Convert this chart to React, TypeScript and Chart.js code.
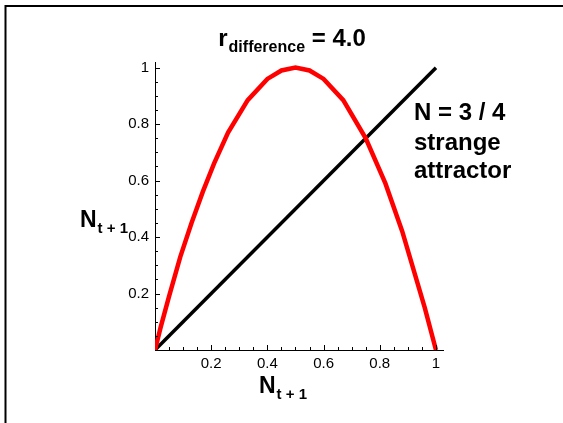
import { useEffect, useRef } from "react";
import { Chart, registerables } from "chart.js";

Chart.register(...registerables);

// Logistic map curve (red)
const mapX = [0, 0.02, 0.05, 0.09, 0.13, 0.17, 0.21, 0.26, 0.33, 0.4, 0.45, 0.5, 0.55, 0.6, 0.67, 0.75, 0.82, 0.88, 0.96, 1];
const mapY = [0, 0.08, 0.19, 0.33, 0.45, 0.56, 0.66, 0.77, 0.885, 0.96, 0.99, 1, 0.99, 0.96, 0.885, 0.75, 0.59, 0.42, 0.15, 0];

// Diagonal N(t+1) = N(t) (black)
const diagX = [0, 1];
const diagY = [0, 1];

const majorTicks = [0.2, 0.4, 0.6, 0.8, 1];
const majorLabels = ["0.2", "0.4", "0.6", "0.8", "1"];
const minorTicks = [0.05, 0.1, 0.15, 0.25, 0.3, 0.35, 0.45, 0.5, 0.55, 0.65, 0.7, 0.75, 0.85, 0.9, 0.95];

const titleMain = "r";
const titleSub = "difference";
const titleRest = " = 4.0";
const axisMain = "N";
const axisSub = "t + 1";
const noteLines = ["N = 3 / 4", "strange", "attractor"];

const FONT = "'Liberation Sans', Arial, sans-serif";

const overlay = {
  id: "overlay",
  afterDraw(chart: any) {
    const ctx = chart.ctx as CanvasRenderingContext2D;
    const xs = chart.scales.x;
    const ys = chart.scales.y;
    const x0 = xs.getPixelForValue(0);
    const y0 = ys.getPixelForValue(0);
    ctx.save();
    // frame
    ctx.strokeStyle = "#000";
    ctx.lineWidth = 2;
    ctx.beginPath();
    ctx.moveTo(5.5, 423);
    ctx.lineTo(5.5, 6);
    ctx.lineTo(563, 6);
    ctx.stroke();

    // inward ticks
    ctx.lineWidth = 1;
    ctx.beginPath();
    const drawTick = (v: number, len: number) => {
      const px = Math.round(xs.getPixelForValue(v)) + 0.5;
      ctx.moveTo(px, y0);
      ctx.lineTo(px, y0 - len);
      const py = Math.round(ys.getPixelForValue(v)) + 0.5;
      ctx.moveTo(x0, py);
      ctx.lineTo(x0 + len, py);
    };
    majorTicks.forEach((v) => drawTick(v, 5));
    minorTicks.forEach((v) => drawTick(v, 3));
    ctx.stroke();

    ctx.fillStyle = "#000";
    ctx.textBaseline = "alphabetic";
    ctx.textAlign = "left";

    const sub = (x: number, base: number, main: string, s: string, big: number, small: number, drop: number, rest?: string) => {
      ctx.font = `bold ${big}px ${FONT}`;
      const w1 = ctx.measureText(main).width;
      ctx.fillText(main, x, base);
      ctx.font = `bold ${small}px ${FONT}`;
      const w2 = ctx.measureText(s).width;
      ctx.fillText(s, x + w1 + 1, base + drop);
      if (rest) {
        ctx.font = `bold ${big}px ${FONT}`;
        ctx.fillText(rest, x + w1 + 1 + w2, base);
      }
    };

    // title centred
    ctx.font = `bold 24px ${FONT}`;
    const tw1 = ctx.measureText(titleMain).width + ctx.measureText(titleRest).width;
    ctx.font = `bold 16px ${FONT}`;
    const tw2 = ctx.measureText(titleSub).width;
    const tStart = 292 - (tw1 + tw2 + 1) / 2;
    sub(tStart, 46, titleMain, titleSub, 24, 16, 6, titleRest);

    // axis labels
    sub(80, 227, axisMain, axisSub, 23, 15, 6);
    sub(259, 393, axisMain, axisSub, 23, 15, 6);

    // annotation
    ctx.font = `bold 24px ${FONT}`;
    const baselines = [120, 150, 178];
    noteLines.forEach((t, i) => ctx.fillText(t, 414, baselines[i]));
    ctx.restore();
  },
};

export default function App() {
  const ref = useRef<HTMLCanvasElement | null>(null);
  useEffect(() => {
    if (!ref.current) return;
    const tickFont = { family: FONT, size: 15 };
    const chart = new Chart(ref.current, {
      type: "line",
      data: {
        datasets: [
          {
            data: mapX.map((x, i) => ({ x, y: mapY[i] })),
            borderColor: "#ff0000",
            borderWidth: 4.5,
            pointRadius: 0,
            tension: 0,
            fill: false,
          },
          {
            data: diagX.map((x, i) => ({ x, y: diagY[i] })),
            borderColor: "#000000",
            borderWidth: 3.5,
            pointRadius: 0,
            tension: 0,
            fill: false,
          },
        ],
      },
      options: {
        animation: false,
        responsive: false,
        events: [],
        layout: { padding: { left: 0, top: 62, right: 120, bottom: 0 } },
        plugins: { legend: { display: false }, title: { display: false }, tooltip: { enabled: false } },
        scales: {
          x: {
            type: "linear",
            min: 0,
            max: 1.025,
            afterBuildTicks: (s: any) => {
              s.ticks = majorTicks.map((v) => ({ value: v }));
            },
            afterFit: (s: any) => {
              s.height = 73;
            },
            grid: { display: true, drawOnChartArea: false, drawTicks: false },
            border: { display: true, color: "#000", width: 1 },
            ticks: {
              color: "#000",
              font: tickFont,
              padding: 5,
              maxRotation: 0,
              autoSkip: false,
              callback: (v: any) => majorLabels[majorTicks.indexOf(Number(v))] ?? "",
            },
          },
          y: {
            type: "linear",
            min: 0,
            max: 1.02,
            afterBuildTicks: (s: any) => {
              s.ticks = majorTicks.map((v) => ({ value: v }));
            },
            afterFit: (s: any) => {
              s.width = 155;
            },
            grid: { display: true, drawOnChartArea: false, drawTicks: false },
            border: { display: true, color: "#000", width: 1 },
            ticks: {
              color: "#000",
              font: tickFont,
              padding: 6,
              autoSkip: false,
              callback: (v: any) => majorLabels[majorTicks.indexOf(Number(v))] ?? "",
            },
          },
        },
      },
      plugins: [overlay],
    });
    return () => chart.destroy();
  }, []);
  return (
    <div style={{ position: "absolute", left: 0, top: 0, width: 563, height: 423, background: "#fff" }}>
      <canvas ref={ref} width={563} height={423} style={{ width: 563, height: 423, display: "block" }} />
    </div>
  );
}
